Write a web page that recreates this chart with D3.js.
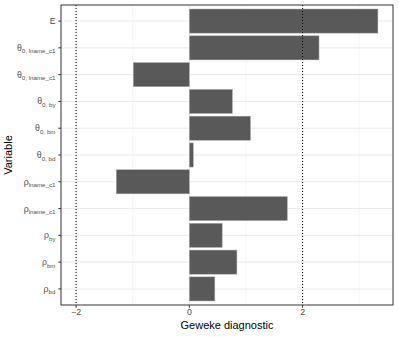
<!DOCTYPE html>
<html>
<head>
<meta charset="utf-8">
<script src="https://cdn.jsdelivr.net/npm/d3@7"></script>
<style>
  body { margin: 0; background: #fff; }
  text { font-family: "Liberation Sans", Arial, sans-serif; }
</style>
</head>
<body>
<svg id="chart" width="399" height="337"></svg>
<script>
// Variables, top to bottom: [symbol, subscript]
const variables = [
  ["E", ""],
  ["θ", "0, lname_c1"],
  ["θ", "0, lname_c1"],
  ["θ", "0, by"],
  ["θ", "0, bm"],
  ["θ", "0, bd"],
  ["ρ", "lname_c1"],
  ["ρ", "lname_c1"],
  ["ρ", "by"],
  ["ρ", "bm"],
  ["ρ", "bd"]
];
const geweke = [3.33, 2.29, -0.99, 0.76, 1.08, 0.07, -1.29, 1.73, 0.58, 0.84, 0.45];
const xTicks = [-2, 0, 2];
const xMinor = [-1, 1, 3];
const thresholds = [-2, 2];

const width = 399, height = 337;
const margin = { top: 5, right: 6, bottom: 32, left: 61 };
const svg = d3.select("#chart");

// ggplot style: 5% expansion on continuous axis
const lo = Math.min(d3.min(geweke), -2), hi = Math.max(d3.max(geweke), 2);
const pad = (hi - lo) * 0.05;
const x = d3.scaleLinear()
  .domain([lo - pad, hi + pad])
  .range([margin.left, width - margin.right]);

// discrete axis: 0.6 units on each side, bars 0.9 wide
const idx = d3.range(variables.length);
const n = variables.length;
const y0 = margin.top, y1 = height - margin.bottom;
const unit = (y1 - y0) / (n - 1 + 1.2);
const y = i => y0 + (0.6 + i) * unit;
const barH = unit * 0.9;

// grid
const grid = svg.append("g");
grid.selectAll(".minor").data(xMinor).join("line")
  .attr("x1", d => x(d)).attr("x2", d => x(d))
  .attr("y1", y0).attr("y2", y1)
  .attr("stroke", "#f2f2f2").attr("stroke-width", 0.6);
grid.selectAll(".major").data(xTicks).join("line")
  .attr("x1", d => x(d)).attr("x2", d => x(d))
  .attr("y1", y0).attr("y2", y1)
  .attr("stroke", "#ebebeb").attr("stroke-width", 1.1);
grid.selectAll(".hy").data(idx).join("line")
  .attr("x1", margin.left).attr("x2", width - margin.right)
  .attr("y1", i => y(i)).attr("y2", i => y(i))
  .attr("stroke", "#ebebeb").attr("stroke-width", 1.1);

// bars
svg.append("g").selectAll("rect").data(idx).join("rect")
  .attr("x", i => x(Math.min(0, geweke[i])))
  .attr("width", i => Math.abs(x(geweke[i]) - x(0)))
  .attr("y", i => y(i) - barH / 2)
  .attr("height", barH)
  .attr("fill", "#595959")
  .attr("stroke", "#aaaaaa")
  .attr("stroke-width", 0.5);

// dotted threshold lines
svg.append("g").selectAll("line").data(thresholds).join("line")
  .attr("x1", d => x(d)).attr("x2", d => x(d))
  .attr("y1", y0).attr("y2", y1)
  .attr("stroke", "#000").attr("stroke-width", 1)
  .attr("stroke-dasharray", "1,2");

// panel border
svg.append("rect")
  .attr("x", margin.left).attr("y", y0)
  .attr("width", width - margin.right - margin.left)
  .attr("height", y1 - y0)
  .attr("fill", "none").attr("stroke", "#333").attr("stroke-width", 1);

// x axis
const xa = svg.append("g");
xa.selectAll("line").data(xTicks).join("line")
  .attr("x1", d => x(d)).attr("x2", d => x(d))
  .attr("y1", y1).attr("y2", y1 + 2.75)
  .attr("stroke", "#333");
xa.selectAll("text").data(xTicks).join("text")
  .attr("x", d => x(d)).attr("y", y1 + 10)
  .attr("text-anchor", "middle")
  .attr("font-size", 8.8).attr("fill", "#4d4d4d")
  .text(d => d < 0 ? "\u2212" + Math.abs(d) : d);

// y axis
const ya = svg.append("g");
ya.selectAll("line").data(idx).join("line")
  .attr("x1", margin.left - 2.75).attr("x2", margin.left)
  .attr("y1", i => y(i)).attr("y2", i => y(i))
  .attr("stroke", "#333");
const lab = ya.selectAll("text").data(idx).join("text")
  .attr("x", margin.left - 5.5).attr("y", i => y(i) + 3)
  .attr("text-anchor", "end")
  .attr("font-size", 8.8).attr("fill", "#4d4d4d");
lab.append("tspan").text(i => variables[i][0]);
lab.filter(i => variables[i][1] !== "").append("tspan")
  .attr("font-size", 6.2).attr("dy", 2.5)
  .text(i => variables[i][1]);

// titles
svg.append("text")
  .attr("x", (margin.left + width - margin.right) / 2).attr("y", 328.5)
  .attr("text-anchor", "middle").attr("font-size", 11).attr("fill", "#000")
  .text("Geweke diagnostic");
svg.append("text")
  .attr("transform", `translate(12,${(y0 + y1) / 2}) rotate(-90)`)
  .attr("text-anchor", "middle").attr("font-size", 11).attr("fill", "#000")
  .text("Variable");
</script>
</body>
</html>
